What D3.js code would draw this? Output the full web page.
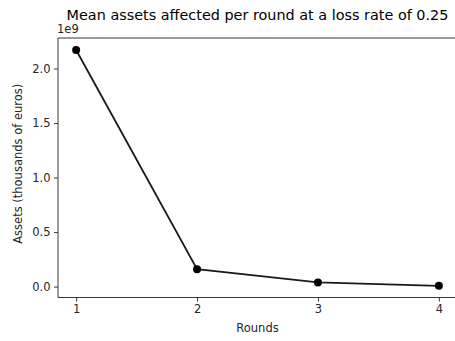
<!DOCTYPE html>
<html>
<head>
<meta charset="utf-8">
<script src="https://cdn.jsdelivr.net/npm/d3@7"></script>
<style>
  html, body { margin: 0; padding: 0; background: #fff; }
  svg { display: block; font-family: "DejaVu Sans", sans-serif; }
</style>
</head>
<body>
<svg id="chart" width="455" height="341"></svg>
<script>
// Mean assets affected per round (in units of 1e9)
const rounds = [1, 2, 3, 4];
const meanAssets = [2.17, 0.16, 0.038, 0.007];
const yTicks = [0.0, 0.5, 1.0, 1.5, 2.0];
const xTicks = [1, 2, 3, 4];

const svg = d3.select("#chart");
const plot = { left: 58, right: 457, top: 38, bottom: 297.5 };

const x = d3.scaleLinear().domain([0.85, 4.15]).range([plot.left, plot.right]);
const y = d3.scaleLinear().domain([-0.1, 2.28]).range([plot.bottom, plot.top]);

const ink = "#222";
const labelInk = "#262626";
const fontSize = 11.5;

// top spine (the right edge falls outside the canvas)
svg.append("line").attr("x1", plot.left).attr("x2", plot.right)
  .attr("y1", plot.top).attr("y2", plot.top)
  .attr("stroke", ink).attr("stroke-width", 0.9);

const xAxis = d3.axisBottom(x).tickValues(xTicks).tickFormat(d3.format("d"))
  .tickSize(4).tickPadding(3.5);
const gx = svg.append("g").attr("transform", `translate(0,${plot.bottom})`).call(xAxis);

const yAxis = d3.axisLeft(y).tickValues(yTicks).tickFormat(d3.format(".1f"))
  .tickSize(4).tickPadding(3.5);
const gy = svg.append("g").attr("transform", `translate(${plot.left},0)`).call(yAxis);

[gx, gy].forEach(g => {
  g.select(".domain").attr("stroke", ink).attr("stroke-width", 0.9);
  g.selectAll(".tick line").attr("stroke", ink).attr("stroke-width", 0.9);
  g.selectAll(".tick text").attr("fill", labelInk)
    .style("font-family", '"DejaVu Sans", sans-serif').style("font-size", fontSize + "px");
});
// spines drawn as plain lines across the full plot area
gx.select(".domain").attr("d", `M${plot.left},0H${plot.right}`);
gy.select(".domain").attr("d", `M0,${plot.bottom}V${plot.top}`);

// series line and markers
const line = d3.line().x((d, i) => x(rounds[i])).y(d => y(d));
svg.append("path").datum(meanAssets)
  .attr("d", line).attr("fill", "none")
  .attr("stroke", "#1a1a1a").attr("stroke-width", 1.8);

svg.selectAll("circle.pt").data(meanAssets).enter().append("circle")
  .attr("class", "pt")
  .attr("cx", (d, i) => x(rounds[i])).attr("cy", d => y(d))
  .attr("r", 4).attr("fill", "#000");

// offset text, title, axis labels
svg.append("text").attr("x", 57).attr("y", 33)
  .attr("font-size", fontSize).attr("fill", labelInk).text("1e9");

svg.append("text").attr("x", (plot.left + plot.right) / 2).attr("y", 20)
  .attr("text-anchor", "middle").attr("font-size", 14.4).attr("fill", "#000")
  .text("Mean assets affected per round at a loss rate of 0.25");

svg.append("text").attr("x", (plot.left + plot.right) / 2).attr("y", 332)
  .attr("text-anchor", "middle").attr("font-size", fontSize).attr("fill", labelInk)
  .text("Rounds");

svg.append("text")
  .attr("transform", `translate(21.5,${(plot.top + plot.bottom) / 2 - 4}) rotate(-90)`)
  .attr("text-anchor", "middle").attr("font-size", fontSize).attr("fill", labelInk)
  .text("Assets (thousands of euros)");
</script>
</body>
</html>
